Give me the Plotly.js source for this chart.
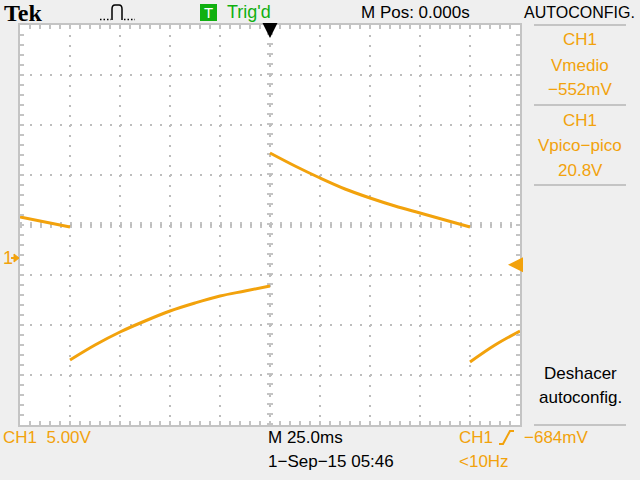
<!DOCTYPE html>
<html>
<head>
<meta charset="utf-8">
<script src="https://cdn.plot.ly/plotly-3.0.1.min.js"></script>
<style>html,body{margin:0;padding:0;background:#efefef;}#chart{width:640px;height:480px;}</style>
</head>
<body>
<div id="chart"></div>
<script>
// Waveform data: time in ms, voltage in V (CH1, 5 V/div, 25 ms/div)
const seg1Time = [-125, -112.5, -100];
const seg1Volt = [4.1, 3.6, 3.1];
const seg2Time = [-100, -87.5, -75, -62.5, -50, -37.5, -25, -12.5, 0];
const seg2Volt = [-10.2, -8.7, -7.4, -6.3, -5.3, -4.5, -3.8, -3.3, -2.8];
const seg3Time = [0, 12.5, 25, 37.5, 50, 62.5, 75, 87.5, 100];
const seg3Volt = [10.5, 9.2, 8.0, 6.9, 6.0, 5.2, 4.5, 3.8, 3.1];
const seg4Time = [100, 112.5, 125];
const seg4Volt = [-10.4, -8.7, -7.3];

const triggerLevel = -0.684; // V
const groundLevel = 0;        // V

const headerTexts = ["Trig'd", "M Pos: 0.000s", "AUTOCONFIG."];
const panelTexts = ["CH1", "Vmedio", "−552mV", "CH1", "Vpico−pico", "20.8V"];
const footerTexts = ["CH1  5.00V", "M 25.0ms", "1−Sep−15 05:46", "CH1", "−684mV", "<10Hz"];

const ORANGE = '#f2a20c';
const GRAY = '#c4c4c4';
const FONT = 'Liberation Sans, Arial, sans-serif';

// plot area pixel geometry for decorations
const L = 20, T = 25, W = 500, H = 400;
const px = x => (x - L) / W;
const py = y => (T + H - y) / H;

const segs = [[seg1Time, seg1Volt], [seg2Time, seg2Volt], [seg3Time, seg3Volt], [seg4Time, seg4Volt]];
const traces = segs.map(s => ({
  x: s[0], y: s[1], type: 'scatter', mode: 'lines',
  line: {color: ORANGE, width: 3, shape: 'spline'}, hoverinfo: 'skip', showlegend: false
}));

function txt(x, y, text, opts) {
  opts = opts || {};
  return Object.assign({
    xref: 'paper', yref: 'paper', x: px(x), y: py(y), text: text, showarrow: false,
    xanchor: 'left', yanchor: 'middle',
    font: {family: FONT, size: 17, color: '#000'}
  }, opts);
}
const orange = (size) => ({family: FONT, size: size || 17, color: ORANGE});

const annotations = [
  txt(2, 13, '<b>Tek</b>', {font: {family: 'Liberation Serif, serif', size: 24, color: '#000'}}),
  txt(225, 12, headerTexts[0], {font: {family: FONT, size: 18, color: '#10b010'}}),
  txt(359, 12, headerTexts[1]),
  txt(522, 12, headerTexts[2], {font: {family: FONT, size: 16, color: '#000'}}),
  txt(580, 40, panelTexts[0], {xanchor: 'center', font: orange(17)}),
  txt(580, 65, panelTexts[1], {xanchor: 'center', font: orange(17)}),
  txt(580, 90, panelTexts[2], {xanchor: 'center', font: orange(17)}),
  txt(580, 120, panelTexts[3], {xanchor: 'center', font: orange(17)}),
  txt(580, 145, panelTexts[4], {xanchor: 'center', font: orange(17)}),
  txt(580, 170, panelTexts[5], {xanchor: 'center', font: orange(17)}),
  txt(580, 373, 'Deshacer', {xanchor: 'center'}),
  txt(580, 397, 'autoconfig.', {xanchor: 'center'}),
  txt(1, 437, footerTexts[0].replace('  ', '&nbsp;&nbsp;'), {font: orange(17)}),
  txt(266, 437, footerTexts[1]),
  txt(266, 461, footerTexts[2]),
  txt(457, 437, footerTexts[3], {font: orange(17)}),
  txt(522, 437, footerTexts[4], {font: orange(17)}),
  txt(457, 461, footerTexts[5], {font: orange(17)}),
  // "1" ground marker label
  {xref: 'paper', yref: 'y', x: px(0), y: groundLevel, text: '1', showarrow: false,
   xanchor: 'left', yanchor: 'middle', font: orange(18)},
  // trigger level arrow (right)
  {xref: 'paper', yref: 'y', x: px(508), y: triggerLevel, ax: 11, ay: 0, text: '', showarrow: true,
   arrowhead: 2, arrowsize: 1, arrowwidth: 3, arrowcolor: ORANGE, standoff: 0},
  // trigger position arrow (top)
  {xref: 'x', yref: 'paper', x: 0, y: py(38), ax: 0, ay: -11, text: '', showarrow: true,
   arrowhead: 2, arrowsize: 1, arrowwidth: 3, arrowcolor: '#000', standoff: 0}
];

const shapes = [
  // center cross tick marks
  {type: 'line', xref: 'x', yref: 'paper', x0: 0, x1: 0, y0: 0, y1: 1,
   line: {color: GRAY, width: 6, dash: '2px,8px'}, layer: 'below'},
  {type: 'line', xref: 'paper', yref: 'paper', x0: 0, x1: 1, y0: 0.5, y1: 0.5,
   line: {color: GRAY, width: 6, dash: '2px,8px'}, layer: 'below'},
  // right panel separators
  ...[25, 105, 185, 425].map(y => ({type: 'line', xref: 'paper', yref: 'paper',
    x0: px(534), x1: px(626), y0: py(y), y1: py(y), line: {color: GRAY, width: 2}})),
  // ground marker arrow (left)
  {type: 'line', xref: 'paper', yref: 'paper', x0: px(11), x1: px(15), y0: py(258), y1: py(258),
   line: {color: ORANGE, width: 2}},
  {type: 'path', xref: 'paper', yref: 'paper',
   path: `M ${px(14)},${py(254)} L ${px(19)},${py(258)} L ${px(14)},${py(262)} Z`,
   fillcolor: ORANGE, line: {color: ORANGE, width: 1}},
  // pulse icon
  {type: 'path', xref: 'paper', yref: 'paper',
   path: `M ${px(112)},${py(20)} L ${px(112)},${py(9)} Q ${px(112)},${py(5)} ${px(115)},${py(5)} L ${px(119)},${py(5)} Q ${px(122)},${py(5)} ${px(122)},${py(9)} L ${px(122)},${py(20)}`,
   line: {color: '#000', width: 1.5}},
  {type: 'line', xref: 'paper', yref: 'paper', x0: px(100), x1: px(111), y0: py(19.5), y1: py(19.5),
   line: {color: '#000', width: 1.5, dash: '1.5px,2px'}},
  {type: 'line', xref: 'paper', yref: 'paper', x0: px(124), x1: px(135), y0: py(19.5), y1: py(19.5),
   line: {color: '#000', width: 1.5, dash: '1.5px,2px'}},
  // green T box
  {type: 'rect', xref: 'paper', yref: 'paper', x0: px(200), x1: px(217), y0: py(21), y1: py(4),
   fillcolor: '#10b010', line: {width: 0}},
  // slope symbol
  {type: 'path', xref: 'paper', yref: 'paper',
   path: `M ${px(499)},${py(444)} L ${px(503)},${py(444)} L ${px(510)},${py(431)} L ${px(514)},${py(431)}`,
   line: {color: ORANGE, width: 2}}
];
annotations.push(txt(208.5, 12.5, 'T', {xanchor: 'center', font: {family: FONT, size: 15, color: '#fff'}}));
// place the "1" label left of the plot area
annotations[18].x = px(1);

const layout = {
  width: 640, height: 480,
  margin: {l: L, r: 640 - L - W, t: T, b: 480 - T - H, pad: 0},
  paper_bgcolor: '#efefef', plot_bgcolor: '#ffffff',
  showlegend: false,
  xaxis: {
    range: [-125, 125], tick0: 0, dtick: 25, showticklabels: false,
    showgrid: true, gridcolor: '#bdbdbd', gridwidth: 2, griddash: '2px,8px',
    zeroline: false, showline: true, linecolor: GRAY, linewidth: 2, mirror: 'ticks',
    ticks: 'inside', ticklen: 4, tickwidth: 2, tickcolor: GRAY,
    minor: {dtick: 5, ticks: 'inside', ticklen: 4, tickwidth: 2, tickcolor: GRAY, showgrid: false},
    fixedrange: true
  },
  yaxis: {
    range: [-16.7, 23.3], tick0: 3.3, dtick: 5, showticklabels: false,
    showgrid: true, gridcolor: '#bdbdbd', gridwidth: 2, griddash: '2px,8px',
    zeroline: false, showline: true, linecolor: GRAY, linewidth: 2, mirror: 'ticks',
    ticks: 'inside', ticklen: 4, tickwidth: 2, tickcolor: GRAY,
    minor: {tick0: 3.3, dtick: 1, ticks: 'inside', ticklen: 4, tickwidth: 2, tickcolor: GRAY, showgrid: false},
    fixedrange: true
  },
  annotations: annotations,
  shapes: shapes
};

Plotly.newPlot('chart', traces, layout, {staticPlot: true, displayModeBar: false});
</script>
</body>
</html>
